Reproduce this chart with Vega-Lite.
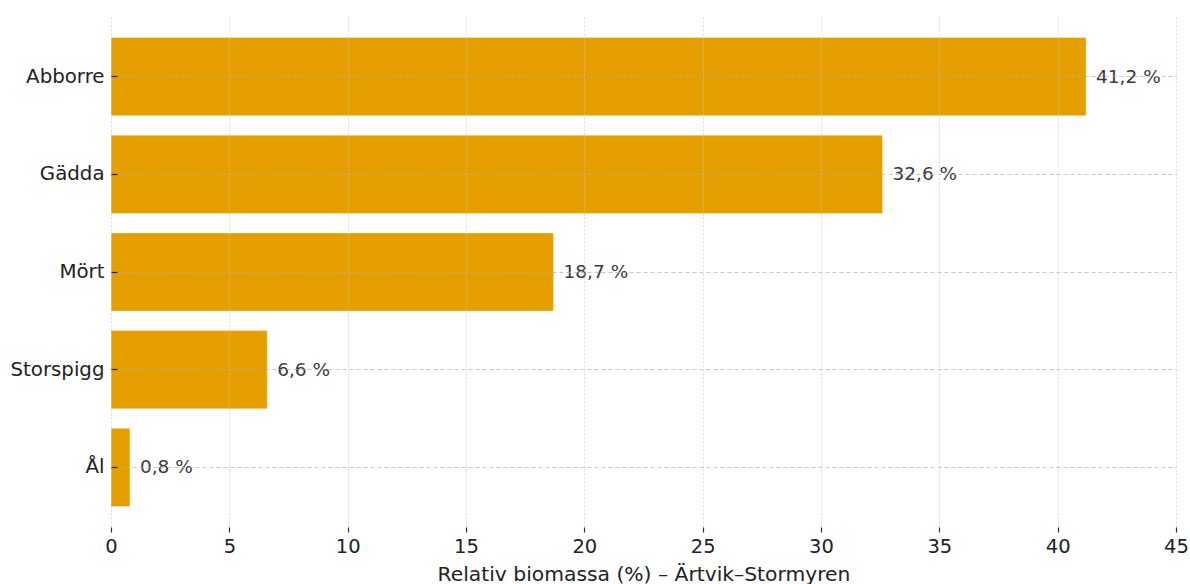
{
  "$schema": "https://vega.github.io/schema/vega-lite/v6.json",
  "width": 1065,
  "height": 510,
  "autosize": "none",
  "padding": {"left": 111, "top": 17, "right": 14, "bottom": 57},
  "background": "white",
  "config": {
    "view": {"stroke": null},
    "font": "DejaVu Sans"
  },
  "data": {
    "values": [
      {"art": "Abborre", "andel": 41.2, "etikett": "41,2 %"},
      {"art": "Gädda", "andel": 32.6, "etikett": "32,6 %"},
      {"art": "Mört", "andel": 18.7, "etikett": "18,7 %"},
      {"art": "Storspigg", "andel": 6.6, "etikett": "6,6 %"},
      {"art": "Ål", "andel": 0.8, "etikett": "0,8 %"}
    ]
  },
  "encoding": {
    "y": {
      "field": "art",
      "type": "nominal",
      "sort": null,
      "scale": {"paddingInner": 0.2, "paddingOuter": 0.21},
      "axis": {
        "title": null,
        "domain": false,
        "zindex": 1,
        "grid": true,
        "gridColor": "#b0b0b0",
        "gridOpacity": 0.7,
        "gridDash": [4, 3],
        "gridWidth": 1,
        "tickColor": "#222",
        "tickSize": -6,
        "tickWidth": 1.2,
        "labelFontSize": 19.8,
        "labelColor": "#222",
        "labelPadding": 13
      }
    },
    "x": {
      "field": "andel",
      "type": "quantitative",
      "scale": {"domain": [0, 45], "nice": false, "zero": true},
      "axis": {
        "title": "Relativ biomassa (%) – Ärtvik–Stormyren",
        "titleFontSize": 20.3,
        "titleFontWeight": "normal",
        "titleColor": "#222",
        "titlePadding": 9,
        "values": [0, 5, 10, 15, 20, 25, 30, 35, 40, 45],
        "labelFlush": false,
        "domain": false,
        "zindex": 1,
        "grid": true,
        "gridColor": "#c8c8c8",
        "gridOpacity": 0.7,
        "gridDash": [2, 2],
        "gridWidth": 1,
        "tickColor": "#333",
        "tickSize": 5,
        "tickWidth": 1.2,
        "labelFontSize": 19.5,
        "labelColor": "#222",
        "labelPadding": 5
      }
    }
  },
  "layer": [
    {
      "mark": {"type": "bar", "color": "#E69F00", "stroke": "white", "strokeOpacity": 0.35, "strokeWidth": 1}
    },
    {
      "mark": {"type": "text", "align": "left", "baseline": "middle", "dx": 10, "fontSize": 18.5, "color": "#3a3a3a"},
      "encoding": {"text": {"field": "etikett"}}
    }
  ]
}
